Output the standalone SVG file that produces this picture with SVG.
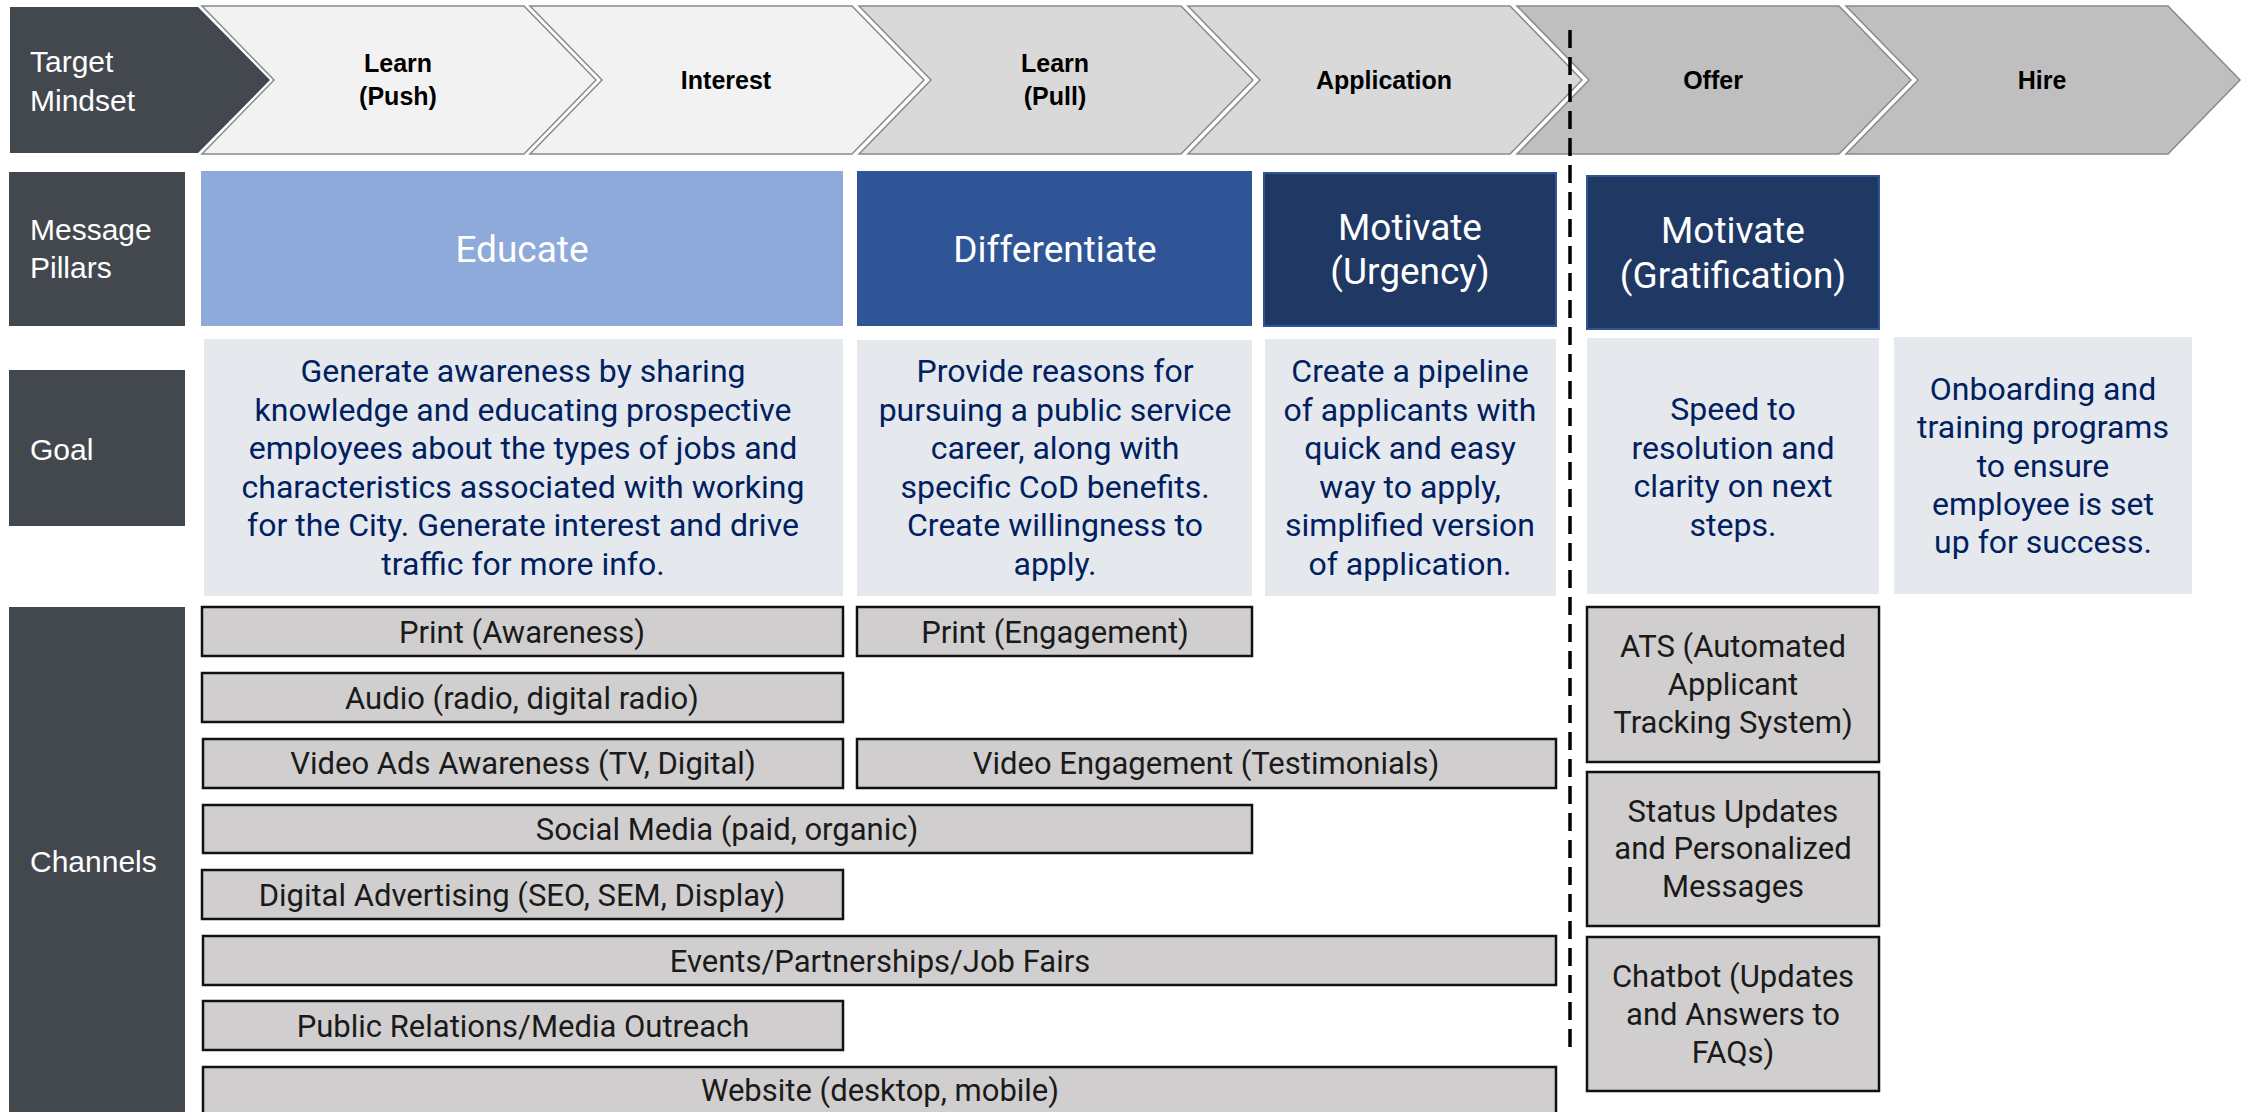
<svg xmlns="http://www.w3.org/2000/svg" width="2244" height="1112" viewBox="0 0 2244 1112">
<style>
.lbl{fill:#43484F}
.lt{font-family:"Liberation Sans",Arial,sans-serif;font-size:30px;fill:#FFFFFF}
.chev{stroke:#8A8A8A;stroke-width:1.5}
.ct{font-family:"Liberation Sans",Arial,sans-serif;font-size:25px;font-weight:bold;fill:#000;text-anchor:middle}
.pt{font-family:Roboto,"Noto Sans",sans-serif;font-size:37px;fill:#FFFFFF;text-anchor:middle}
.goal{fill:#E5E9EE}
.gt{font-family:Roboto,"Noto Sans",sans-serif;font-size:32px;fill:#002060;text-anchor:middle}
.bar{fill:#D0CECE;stroke:#111;stroke-width:2.5}
.bt{font-family:Roboto,"Noto Sans",sans-serif;font-size:31px;fill:#1A1A1A;text-anchor:middle}
</style>
<rect width="2244" height="1112" fill="#FFFFFF"/>

<g id="row-mindset">
  <g id="label-target-mindset">
    <polygon class="lbl" points="10,7 198,7 270,80 198,153 10,153"/>
    <text class="lt" x="30" y="72">Target</text>
    <text class="lt" x="30" y="111">Mindset</text>
  </g>
  <g id="stage-learn-push">
    <polygon class="chev" fill="#F2F2F2" points="202,6 524,6 596,80 524,154 202,154 274,80"/>
    <text class="ct" x="398" y="72">Learn</text>
    <text class="ct" x="398" y="105">(Push)</text>
  </g>
  <g id="stage-interest">
    <polygon class="chev" fill="#F2F2F2" points="530,6 852,6 924,80 852,154 530,154 602,80"/>
    <text class="ct" x="726" y="89">Interest</text>
  </g>
  <g id="stage-learn-pull">
    <polygon class="chev" fill="#D9D9D9" points="859,6 1181,6 1253,80 1181,154 859,154 931,80"/>
    <text class="ct" x="1055" y="72">Learn</text>
    <text class="ct" x="1055" y="105">(Pull)</text>
  </g>
  <g id="stage-application">
    <polygon class="chev" fill="#D9D9D9" points="1188,6 1510,6 1582,80 1510,154 1188,154 1260,80"/>
    <text class="ct" x="1384" y="89">Application</text>
  </g>
  <g id="stage-offer">
    <polygon class="chev" fill="#BFBFBF" points="1517,6 1839,6 1911,80 1839,154 1517,154 1589,80"/>
    <text class="ct" x="1713" y="89">Offer</text>
  </g>
  <g id="stage-hire">
    <polygon class="chev" fill="#BFBFBF" points="1846,6 2168,6 2240,80 2168,154 1846,154 1918,80"/>
    <text class="ct" x="2042" y="89">Hire</text>
  </g>
</g>

<g id="row-pillars">
  <g id="label-message-pillars">
    <rect class="lbl" x="9" y="172" width="176" height="154"/>
    <text class="lt" x="30" y="240">Message</text>
    <text class="lt" x="30" y="278">Pillars</text>
  </g>
  <g id="pillar-educate">
    <rect x="201" y="171" width="642" height="155" fill="#8EAADB"/>
    <text class="pt" x="522" y="262">Educate</text>
  </g>
  <g id="pillar-differentiate">
    <rect x="857" y="171" width="395" height="155" fill="#2F5597"/>
    <text class="pt" x="1055" y="262">Differentiate</text>
  </g>
  <g id="pillar-motivate-urgency">
    <rect x="1264" y="173" width="292" height="153" fill="#203864" stroke="#2F5597" stroke-width="2"/>
    <text class="pt" x="1410" y="240">Motivate</text>
    <text class="pt" x="1410" y="284">(Urgency)</text>
  </g>
  <g id="pillar-motivate-gratification">
    <rect x="1587" y="176" width="292" height="153" fill="#203864" stroke="#2F5597" stroke-width="2"/>
    <text class="pt" x="1733" y="243">Motivate</text>
    <text class="pt" x="1733" y="288">(Gratification)</text>
  </g>
</g>

<g id="row-goal">
  <g id="label-goal">
    <rect class="lbl" x="9" y="370" width="176" height="156"/>
    <text class="lt" x="30" y="460">Goal</text>
  </g>
  <g id="goal-educate">
    <rect class="goal" x="204" y="339" width="639" height="257"/>
    <text class="gt" x="523" y="382">Generate awareness by sharing</text>
    <text class="gt" x="523" y="420.6">knowledge and educating prospective</text>
    <text class="gt" x="523" y="459.2">employees about the types of jobs and</text>
    <text class="gt" x="523" y="497.8">characteristics associated with working</text>
    <text class="gt" x="523" y="536.4">for the City. Generate interest and drive</text>
    <text class="gt" x="523" y="575">traffic for more info.</text>
  </g>
  <g id="goal-differentiate">
    <rect class="goal" x="857" y="340" width="395" height="256"/>
    <text class="gt" x="1055" y="382">Provide reasons for</text>
    <text class="gt" x="1055" y="420.6">pursuing a public service</text>
    <text class="gt" x="1055" y="459.2">career, along with</text>
    <text class="gt" x="1055" y="497.8">specific CoD benefits.</text>
    <text class="gt" x="1055" y="536.4">Create willingness to</text>
    <text class="gt" x="1055" y="575">apply.</text>
  </g>
  <g id="goal-urgency">
    <rect class="goal" x="1265" y="339" width="291" height="257"/>
    <text class="gt" x="1410" y="382">Create a pipeline</text>
    <text class="gt" x="1410" y="420.6">of applicants with</text>
    <text class="gt" x="1410" y="459.2">quick and easy</text>
    <text class="gt" x="1410" y="497.8">way to apply,</text>
    <text class="gt" x="1410" y="536.4">simplified version</text>
    <text class="gt" x="1410" y="575">of application.</text>
  </g>
  <g id="goal-gratification">
    <rect class="goal" x="1587" y="338" width="292" height="256"/>
    <text class="gt" x="1733" y="420">Speed to</text>
    <text class="gt" x="1733" y="458.5">resolution and</text>
    <text class="gt" x="1733" y="497">clarity on next</text>
    <text class="gt" x="1733" y="535.5">steps.</text>
  </g>
  <g id="goal-hire">
    <rect class="goal" x="1894" y="337" width="298" height="257"/>
    <text class="gt" x="2043" y="400">Onboarding and</text>
    <text class="gt" x="2043" y="438">training programs</text>
    <text class="gt" x="2043" y="477">to ensure</text>
    <text class="gt" x="2043" y="515">employee is set</text>
    <text class="gt" x="2043" y="553">up for success.</text>
  </g>
</g>

<g id="row-channels">
  <g id="label-channels">
    <rect class="lbl" x="9" y="607" width="176" height="510"/>
    <text class="lt" x="30" y="872">Channels</text>
  </g>
  <g id="ch-print-awareness">
    <rect class="bar" x="202" y="607" width="641" height="49"/>
    <text class="bt" x="522" y="642.5">Print (Awareness)</text>
  </g>
  <g id="ch-print-engagement">
    <rect class="bar" x="857" y="607" width="395" height="49"/>
    <text class="bt" x="1055" y="642.5">Print (Engagement)</text>
  </g>
  <g id="ch-audio">
    <rect class="bar" x="202" y="673" width="641" height="49"/>
    <text class="bt" x="522" y="708.5">Audio (radio, digital radio)</text>
  </g>
  <g id="ch-video-ads">
    <rect class="bar" x="203" y="739" width="640" height="49"/>
    <text class="bt" x="523" y="774">Video Ads Awareness (TV, Digital)</text>
  </g>
  <g id="ch-video-engagement">
    <rect class="bar" x="857" y="739" width="699" height="49"/>
    <text class="bt" x="1206" y="774">Video Engagement (Testimonials)</text>
  </g>
  <g id="ch-social">
    <rect class="bar" x="203" y="805" width="1049" height="48"/>
    <text class="bt" x="727" y="840">Social Media (paid, organic)</text>
  </g>
  <g id="ch-digital">
    <rect class="bar" x="202" y="870" width="641" height="49"/>
    <text class="bt" x="522" y="905.5">Digital Advertising (SEO, SEM, Display)</text>
  </g>
  <g id="ch-events">
    <rect class="bar" x="203" y="936" width="1353" height="49"/>
    <text class="bt" x="880" y="971.5">Events/Partnerships/Job Fairs</text>
  </g>
  <g id="ch-pr">
    <rect class="bar" x="203" y="1001" width="640" height="49"/>
    <text class="bt" x="523" y="1036.5">Public Relations/Media Outreach</text>
  </g>
  <g id="ch-website">
    <rect class="bar" x="203" y="1067" width="1353" height="60"/>
    <text class="bt" x="880" y="1101">Website (desktop, mobile)</text>
  </g>
  <g id="ch-ats">
    <rect class="bar" x="1587" y="607" width="292" height="155"/>
    <text class="bt" x="1733" y="657">ATS (Automated</text>
    <text class="bt" x="1733" y="695">Applicant</text>
    <text class="bt" x="1733" y="733">Tracking System)</text>
  </g>
  <g id="ch-status">
    <rect class="bar" x="1587" y="772" width="292" height="154"/>
    <text class="bt" x="1733" y="822">Status Updates</text>
    <text class="bt" x="1733" y="859">and Personalized</text>
    <text class="bt" x="1733" y="897">Messages</text>
  </g>
  <g id="ch-chatbot">
    <rect class="bar" x="1587" y="937" width="292" height="154"/>
    <text class="bt" x="1733" y="987">Chatbot (Updates</text>
    <text class="bt" x="1733" y="1025">and Answers to</text>
    <text class="bt" x="1733" y="1063">FAQs)</text>
  </g>
</g>

<g id="connectors">
  <line id="divider" x1="1570" y1="30" x2="1570" y2="1050" stroke="#000" stroke-width="3.5" stroke-dasharray="18 9"/>
</g>
</svg>
